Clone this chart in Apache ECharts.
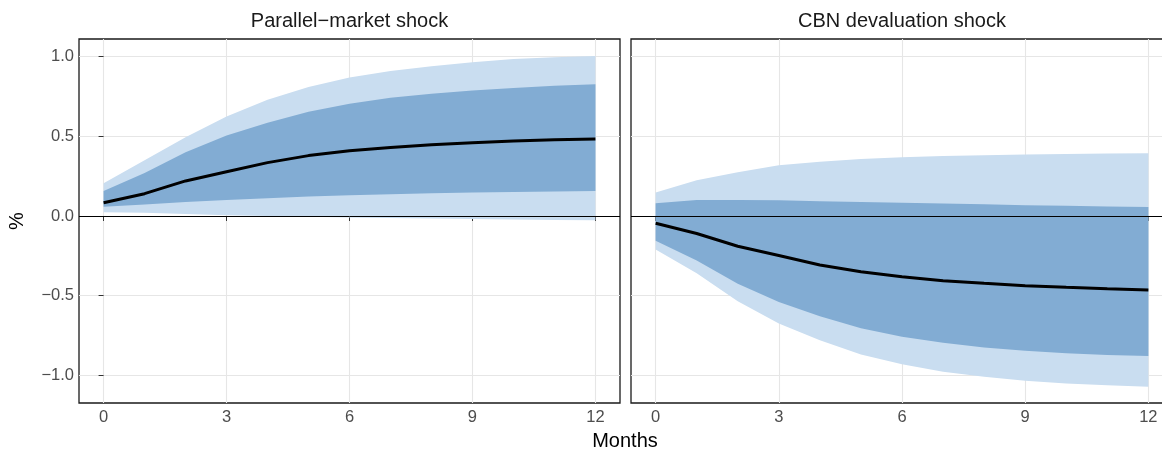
<!DOCTYPE html>
<html>
<head>
<meta charset="utf-8">
<script src="https://cdn.jsdelivr.net/npm/echarts@6/dist/echarts.min.js"></script>
<style>
html, body { margin: 0; padding: 0; background: #fff; overflow: hidden; }
#main { width: 1173px; height: 450px; }
</style>
</head>
<body>
<div id="main"></div>
<script>
var months = [0, 1, 2, 3, 4, 5, 6, 7, 8, 9, 10, 11, 12];
var xTicks = [0, 3, 6, 9, 12];
var yTicks = [-1, -0.5, 0, 0.5, 1];
var panelTitles = ['Parallel\u2212market shock', 'CBN devaluation shock'];

// parallel-market shock
var parMedian  = [0.083, 0.14, 0.22, 0.278, 0.335, 0.379, 0.41, 0.43, 0.447, 0.46, 0.47, 0.478, 0.484];
var parInnerHi = [0.157, 0.27, 0.40, 0.505, 0.585, 0.655, 0.705, 0.742, 0.768, 0.788, 0.804, 0.817, 0.827];
var parInnerLo = [0.058, 0.072, 0.087, 0.1, 0.112, 0.122, 0.13, 0.137, 0.142, 0.147, 0.151, 0.154, 0.157];
var parOuterHi = [0.205, 0.35, 0.495, 0.625, 0.73, 0.81, 0.87, 0.91, 0.94, 0.965, 0.985, 0.997, 1.005];
var parOuterLo = [0.023, 0.02, 0.012, 0.005, 0.0, -0.005, -0.01, -0.013, -0.016, -0.019, -0.022, -0.025, -0.027];

// CBN devaluation shock
var cbnMedian  = [-0.046, -0.11, -0.19, -0.248, -0.308, -0.35, -0.381, -0.406, -0.423, -0.438, -0.448, -0.457, -0.465];
var cbnInnerHi = [0.08, 0.1, 0.1, 0.098, 0.093, 0.088, 0.083, 0.078, 0.073, 0.068, 0.064, 0.06, 0.057];
var cbnInnerLo = [-0.155, -0.28, -0.425, -0.54, -0.63, -0.705, -0.758, -0.796, -0.825, -0.846, -0.862, -0.872, -0.879];
var cbnOuterHi = [0.147, 0.225, 0.275, 0.318, 0.34, 0.357, 0.368, 0.376, 0.382, 0.386, 0.389, 0.392, 0.394];
var cbnOuterLo = [-0.21, -0.36, -0.535, -0.675, -0.78, -0.87, -0.93, -0.978, -1.01, -1.034, -1.052, -1.063, -1.072];

var lightBlue = '#c9ddf0';
var darkBlue = '#82acd3';
var font = 'Liberation Sans, Arial, sans-serif';

function pairs(vals) {
    return months.map(function (m, i) { return [m, vals[i]]; });
}

// ribbon drawn as one polygon: upper edge left->right, lower edge right->left
function band(gi, lo, hi, color) {
    return {
        type: 'custom', xAxisIndex: gi, yAxisIndex: gi, silent: true, z: 2,
        data: months.map(function (m, i) { return [m, lo[i], hi[i]]; }),
        encode: { x: 0, y: [1, 2] },
        renderItem: function (params, api) {
            if (params.dataIndex !== 0) return null;
            var pts = [];
            for (var i = 0; i < months.length; i++) pts.push(api.coord([months[i], hi[i]]));
            for (var j = months.length - 1; j >= 0; j--) pts.push(api.coord([months[j], lo[j]]));
            return { type: 'polygon', shape: { points: pts }, style: { fill: color } };
        }
    };
}

function medianLine(gi, vals) {
    return {
        type: 'line', xAxisIndex: gi, yAxisIndex: gi, data: pairs(vals),
        symbol: 'none', lineStyle: { color: '#000', width: 3 }, z: 5,
        markLine: {
            silent: true, symbol: 'none', label: { show: false },
            lineStyle: { color: '#000', width: 1, type: 'solid' },
            data: [{ yAxis: 0 }]
        }
    };
}

function xAxis(gi) {
    return {
        type: 'value', gridIndex: gi, min: -0.6, max: 12.6,
        axisLine: { show: false },
        axisTick: { show: true, length: 5, customValues: xTicks, lineStyle: { color: '#333' } },
        axisLabel: { customValues: xTicks, color: '#4d4d4d', fontSize: 16.5, fontFamily: font, margin: 6 },
        splitLine: { show: true, lineStyle: { color: '#e6e6e6', width: 1.1 } }
    };
}

function yAxis(gi, showLabels) {
    return {
        type: 'value', gridIndex: gi, min: -1.174, max: 1.111,
        axisLine: { show: false },
        axisTick: { show: showLabels, length: 5, customValues: yTicks, lineStyle: { color: '#333' } },
        axisLabel: { show: showLabels, customValues: yTicks, color: '#4d4d4d', fontSize: 16.5, fontFamily: font, margin: 5,
            formatter: function (v) { return (v < 0 ? '\u2212' : '') + Math.abs(v).toFixed(1); } },
        splitLine: { show: true, lineStyle: { color: '#e6e6e6', width: 1.1 } }
    };
}

var option = {
    animation: false,
    grid: [
        { left: 79, top: 39, width: 541, height: 364, show: true, borderColor: '#1a1a1a', borderWidth: 1.3, backgroundColor: 'transparent' },
        { left: 631, top: 39, width: 542, height: 364, show: true, borderColor: '#1a1a1a', borderWidth: 1.3, backgroundColor: 'transparent' }
    ],
    xAxis: [xAxis(0), xAxis(1)],
    yAxis: [yAxis(0, true), yAxis(1, false)],
    graphic: [
        { type: 'text', x: 349.5, y: 21, style: { text: panelTitles[0], fill: '#1a1a1a', font: '20px ' + font, align: 'center', verticalAlign: 'middle' } },
        { type: 'text', x: 902, y: 21, style: { text: panelTitles[1], fill: '#1a1a1a', font: '20px ' + font, align: 'center', verticalAlign: 'middle' } },
        { type: 'text', x: 625, y: 441, style: { text: 'Months', fill: '#000', font: '20px ' + font, align: 'center', verticalAlign: 'middle' } },
        { type: 'text', x: 17, y: 221, rotation: Math.PI / 2, style: { text: '%', fill: '#000', font: '20px ' + font, align: 'center', verticalAlign: 'middle' } }
    ],
    series: [
        band(0, parOuterLo, parOuterHi, lightBlue),
        band(0, parInnerLo, parInnerHi, darkBlue),
        medianLine(0, parMedian),
        band(1, cbnOuterLo, cbnOuterHi, lightBlue),
        band(1, cbnInnerLo, cbnInnerHi, darkBlue),
        medianLine(1, cbnMedian)
    ]
};

var myChart = echarts.init(document.getElementById('main'));
myChart.setOption(option);
</script>
</body>
</html>
